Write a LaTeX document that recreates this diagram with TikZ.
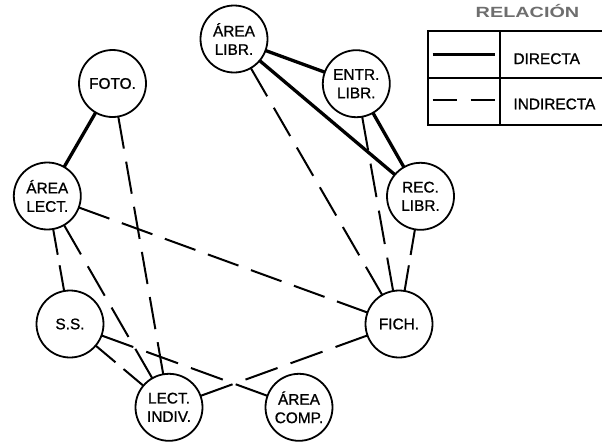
\documentclass[tikz,border=0pt]{standalone}
\usepackage{fontspec}
\setmainfont{Liberation Sans}
\newfontfamily\labelfont[FakeBold=1]{Liberation Sans}
\usepackage{graphicx}
\definecolor{titlegray}{HTML}{6E6E6E}
\begin{document}
\begin{tikzpicture}[x=1pt,y=-1pt,
  nd/.style={circle,draw,line width=1.8pt,minimum size=67pt,inner sep=0pt,outer sep=0pt,
    align=center,font=\labelfont\fontsize{15.4}{18.4}\selectfont},
  direct/.style={line width=3.3pt},
  indirect/.style={line width=2pt},
  ind/.style 2 args={indirect,dash pattern=on #1pt off #2pt},
  frame/.style={line width=2pt},
  legtext/.style={anchor=base west,inner sep=0pt,font=\labelfont\fontsize{15.4}{18.4}\selectfont},
]
\useasboundingbox (0,0) rectangle (602,442);

% nodes
\node[nd] (AL)  at (234,39)     {ÁREA\\LIBR.};
\node[nd] (EL)  at (356.3,83.7) {ENTR.\\LIBR.};
\node[nd] (RL)  at (420.5,196.3){REC.\\LIBR.};
\node[nd] (FI)  at (399,324)    {FICH.};
\node[nd] (AC)  at (299,407.3)  {ÁREA\\COMP.};
\node[nd] (LI)  at (169,407.3)  {LECT.\\INDIV.};
\node[nd] (SS)  at (70,324)     {S.S.};
\node[nd] (ALe) at (47.3,196)   {ÁREA\\LECT.};
\node[nd] (FO)  at (112.5,83.5) {FOTO.};

% direct relations
\draw[direct] (AL) -- (EL);
\draw[direct] (AL) -- (RL);
\draw[direct] (EL) -- (RL);
\draw[direct] (FO) -- (ALe);

% indirect relations
\draw[ind={32.67}{13.27}] (AL) -- (FI);
\draw[ind={33.93}{13.79}] (EL) -- (FI);
\draw[ind={25.97}{10.55}] (RL) -- (FI);
\draw[ind={32.58}{13.24}] (FO) -- (LI);
\draw[ind={32.56}{13.23}] (ALe) -- (FI);
\draw[ind={26.18}{10.64}] (ALe) -- (SS);
\draw[ind={33.88}{13.76}] (ALe) -- (LI);
\draw[ind={25.93}{10.53}] (SS) -- (LI);
\draw[ind={33.86}{13.75}] (SS) -- (AC);
\draw[ind={34.03}{13.82}] (FI) -- (LI);

% legend
\node[anchor=base,inner sep=0pt,text=titlegray,font=\fontsize{14.8}{16}\selectfont\bfseries]
  (title) at (527.5,17.3) {\scalebox{1.34}[1]{RELACIÓN}};
\coordinate (tl) at (428.3,31);
\coordinate (bl) at (428.3,125);
\coordinate (tr) at (604,31);
\coordinate (br) at (604,125);
\draw[frame] (tr) -- (tl) -- (bl) -- (br);
\coordinate (mt) at (500,31);
\coordinate (mb) at (500,125);
\draw[frame] (mt) -- (mb);
\coordinate (ml) at (428.3,78.3);
\coordinate (mr) at (604,78.3);
\draw[frame] (ml) -- (mr);
\coordinate (d1) at (432.7,54.3);
\coordinate (d2) at (495,54.3);
\draw[direct] (d1) -- (d2);
\coordinate (i1) at (432.7,100);
\coordinate (i2) at (495,100);
\draw[ind={24.5}{13.3}] (i1) -- (i2);
\node[legtext] (dir) at (513.3,64) {DIRECTA};
\node[legtext] (indir) at (513.3,109.3) {INDIRECTA};
\end{tikzpicture}
\end{document}
